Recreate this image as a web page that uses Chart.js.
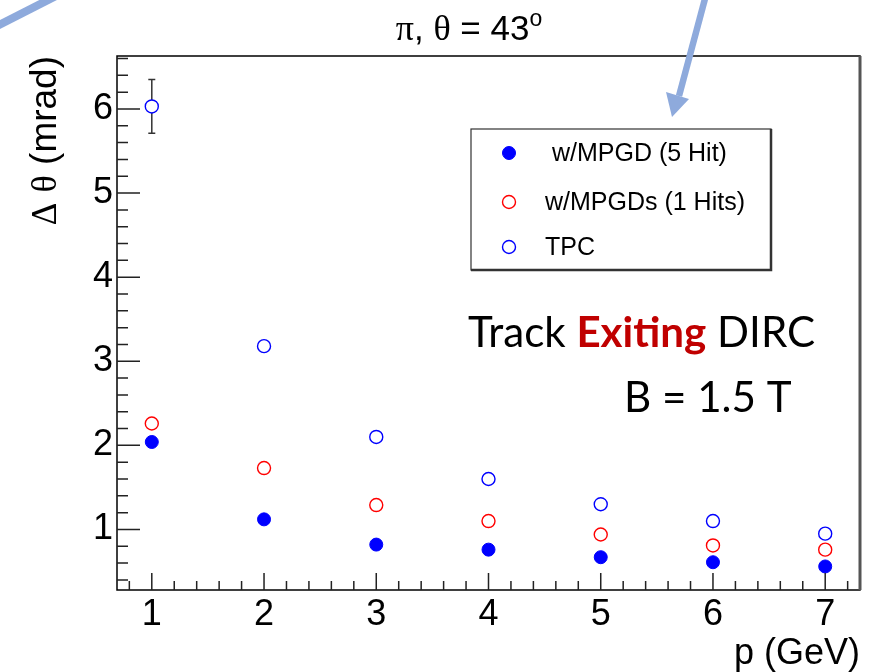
<!DOCTYPE html>
<html>
<head>
<meta charset="utf-8">
<script src="https://cdn.jsdelivr.net/npm/chart.js@4.4.0/dist/chart.umd.min.js"></script>
<style>
  html, body { margin: 0; padding: 0; background: #fff; }
  #wrap { width: 871px; height: 672px; }
</style>
</head>
<body>
<div id="wrap"><canvas id="c" width="871" height="672"></canvas></div>
<script>
// momentum points (GeV) and angular resolution (mrad)
const momenta = [1, 2, 3, 4, 5, 6, 7];
const mpgd5Hit = [2.04, 1.12, 0.82, 0.76, 0.67, 0.61, 0.56];
const mpgd1Hit = [2.26, 1.73, 1.29, 1.10, 0.94, 0.81, 0.76];
const tpcOnly = [6.03, 3.18, 2.10, 1.60, 1.30, 1.10, 0.95];
const tpcErr = [0.32, 0, 0, 0, 0, 0, 0];
const legendLabels = [' w/MPGD (5 Hit)', 'w/MPGDs (1 Hits)', 'TPC'];

const SANS = 'Liberation Sans';
const NARROW = "'Liberation Sans Narrow', 'Liberation Sans'";
const SERIF = 'Liberation Serif';

const toPoints = (ys) => momenta.map((x, i) => ({ x, y: ys[i] }));

// draws several text pieces in a row, each with its own font/color
function drawRuns(ctx, runs, x, y) {
  let cx = x;
  runs.forEach((r) => {
    ctx.font = r.font;
    ctx.fillStyle = r.color || '#000';
    ctx.fillText(r.text, cx, y - (r.rise || 0));
    cx += ctx.measureText(r.text).width;
  });
  return cx - x;
}
function runsWidth(ctx, runs) {
  let w = 0;
  runs.forEach((r) => { ctx.font = r.font; w += ctx.measureText(r.text).width; });
  return w;
}

const rootStyle = {
  id: 'rootStyle',
  beforeDatasetsDraw(chart) {
    const { ctx, scales: { x, y } } = chart;
    // error bars
    ctx.save();
    ctx.strokeStyle = '#333';
    ctx.lineWidth = 1.5;
    momenta.forEach((m, i) => {
      if (!tpcErr[i]) return;
      const px = x.getPixelForValue(m);
      const top = y.getPixelForValue(tpcOnly[i] + tpcErr[i]);
      const bot = y.getPixelForValue(tpcOnly[i] - tpcErr[i]);
      ctx.beginPath();
      ctx.moveTo(px, top); ctx.lineTo(px, bot);
      ctx.moveTo(px - 3.5, top); ctx.lineTo(px + 3.5, top);
      ctx.moveTo(px - 3.5, bot); ctx.lineTo(px + 3.5, bot);
      ctx.stroke();
    });
    ctx.restore();
  },
  afterDraw(chart) {
    const { ctx, chartArea: a, scales: { x, y } } = chart;
    ctx.save();

    // frame
    ctx.strokeStyle = '#000';
    ctx.lineWidth = 1.5;
    ctx.strokeRect(a.left, a.top, a.right - a.left, a.bottom - a.top);
    ctx.strokeStyle = '#555';
    ctx.lineWidth = 3;
    ctx.beginPath();
    ctx.moveTo(a.right, a.top); ctx.lineTo(a.right, a.bottom);
    ctx.stroke();

    // inward ticks
    ctx.strokeStyle = '#222';
    ctx.lineWidth = 1.5;
    ctx.beginPath();
    for (let k = 2; k <= 33; k++) {
      const v = k / 5;
      if (v < y.min || v > y.max) continue;
      const py = y.getPixelForValue(v);
      const len = k % 5 === 0 ? 23 : 11;
      ctx.moveTo(a.left, py); ctx.lineTo(a.left + len, py);
    }
    for (let k = 4; k <= 36; k++) {
      const v = k / 5;
      if (v < x.min || v > x.max) continue;
      const px = x.getPixelForValue(v);
      const len = k % 5 === 0 ? 17 : 9;
      ctx.moveTo(px, a.bottom); ctx.lineTo(px, a.bottom - len);
    }
    ctx.stroke();

    // title
    ctx.textBaseline = 'alphabetic';
    ctx.textAlign = 'left';
    const title = [
      { text: '\u03C0', font: `36px ${SERIF}` },
      { text: ', ', font: `35px ${SANS}` },
      { text: '\u03B8', font: `36px ${SERIF}` },
      { text: ' = 43', font: `35px ${SANS}` },
      { text: 'o', font: `23px ${SANS}`, rise: 14 },
    ];
    drawRuns(ctx, title, 469 - runsWidth(ctx, title) / 2, 40);

    // y title, rotated, right aligned to the top of the frame
    const ytitle = [
      { text: '\u0394', font: `35px ${SERIF}` },
      { text: ' ', font: `37px ${SANS}` },
      { text: '\u03B8', font: `36px ${SERIF}` },
      { text: ' (mrad)', font: `37px ${SANS}` },
    ];
    ctx.save();
    ctx.translate(56, a.top);
    ctx.rotate(-Math.PI / 2);
    drawRuns(ctx, ytitle, -runsWidth(ctx, ytitle), 0);
    ctx.restore();

    // x title
    ctx.font = `36px ${SANS}`;
    ctx.fillStyle = '#000';
    ctx.textAlign = 'right';
    ctx.fillText('p (GeV)', a.right, 664);
    ctx.textAlign = 'left';

    // legend box
    const lx = 471, ly = 129, lw = 300, lh = 141;
    ctx.fillStyle = '#fff';
    ctx.fillRect(lx, ly, lw, lh);
    ctx.strokeStyle = '#333';
    ctx.lineWidth = 1.2;
    ctx.strokeRect(lx, ly, lw, lh);
    ctx.lineWidth = 2.5;
    ctx.beginPath();
    ctx.moveTo(lx + lw, ly); ctx.lineTo(lx + lw, ly + lh); ctx.lineTo(lx, ly + lh);
    ctx.stroke();
    const rows = [153, 202, 247];
    const sets = chart.data.datasets;
    ctx.font = `25px ${SANS}`;
    ctx.textBaseline = 'middle';
    rows.forEach((ry, i) => {
      const ds = sets[i];
      ctx.beginPath();
      ctx.arc(509, ry, ds.pointRadius, 0, Math.PI * 2);
      ctx.fillStyle = ds.backgroundColor;
      ctx.fill();
      ctx.lineWidth = ds.borderWidth;
      ctx.strokeStyle = ds.borderColor;
      ctx.stroke();
      ctx.fillStyle = '#000';
      ctx.fillText(legendLabels[i], 545, ry + 1);
    });

    // annotations
    ctx.textBaseline = 'alphabetic';
    const line1 = [
      { text: 'Track ', font: `37px Lato` },
      { text: 'Exiting', font: `bold 37px Lato`, color: '#c00000' },
      { text: ' DIRC', font: `37px Lato` },
    ];
    const w1 = runsWidth(ctx, line1);
    const s = 347 / w1;
    line1.forEach((r) => { r.font = r.font.replace('37px', (37 * s).toFixed(1) + 'px'); });
    drawRuns(ctx, line1, 468, 347);
    ctx.font = `${(37 * s).toFixed(1)}px Lato`;
    ctx.fillStyle = '#000';
    ctx.fillText('B = 1.5 T', 624, 412);

    // slide arrows
    ctx.strokeStyle = '#8eaadc';
    ctx.fillStyle = '#8eaadc';
    ctx.lineWidth = 8;
    ctx.beginPath();
    ctx.moveTo(-5, 27); ctx.lineTo(56, -4);
    ctx.stroke();
    ctx.lineWidth = 6.5;
    ctx.beginPath();
    ctx.moveTo(706, -5); ctx.lineTo(679, 96);
    ctx.stroke();
    ctx.beginPath();
    ctx.moveTo(672, 117); ctx.lineTo(666, 92); ctx.lineTo(689, 99);
    ctx.closePath();
    ctx.fill();

    ctx.restore();
  },
};

new Chart(document.getElementById('c'), {
  type: 'scatter',
  data: {
    datasets: [
      {
        label: legendLabels[0],
        data: toPoints(mpgd5Hit),
        pointStyle: 'circle',
        pointRadius: 6.5,
        backgroundColor: '#0000ff',
        borderColor: '#0000ff',
        borderWidth: 1,
      },
      {
        label: legendLabels[1],
        data: toPoints(mpgd1Hit),
        pointStyle: 'circle',
        pointRadius: 6.5,
        backgroundColor: '#ffffff',
        borderColor: '#ff0000',
        borderWidth: 1.4,
      },
      {
        label: legendLabels[2],
        data: toPoints(tpcOnly),
        pointStyle: 'circle',
        pointRadius: 6.5,
        backgroundColor: '#ffffff',
        borderColor: '#0000ff',
        borderWidth: 1.4,
      },
    ],
  },
  options: {
    responsive: false,
    animation: false,
    devicePixelRatio: 1,
    layout: { padding: { left: 0, top: 56, right: 11, bottom: 0 } },
    plugins: { legend: { display: false }, tooltip: { enabled: false } },
    scales: {
      x: {
        type: 'linear',
        min: 0.69,
        max: 7.31,
        afterFit: (s) => { s.height = 82; },
        grid: { display: false, drawTicks: false },
        border: { display: false },
        ticks: {
          stepSize: 1,
          includeBounds: false,
          padding: 3,
          color: '#000',
          font: { family: NARROW, size: 36 },
        },
      },
      y: {
        type: 'linear',
        min: 0.28,
        max: 6.63,
        afterFit: (s) => { s.width = 117; },
        grid: { display: false, drawTicks: false },
        border: { display: false },
        ticks: {
          stepSize: 1,
          includeBounds: false,
          padding: 4,
          color: '#000',
          font: { family: NARROW, size: 36 },
        },
      },
    },
  },
  plugins: [rootStyle],
});
</script>
</body>
</html>
